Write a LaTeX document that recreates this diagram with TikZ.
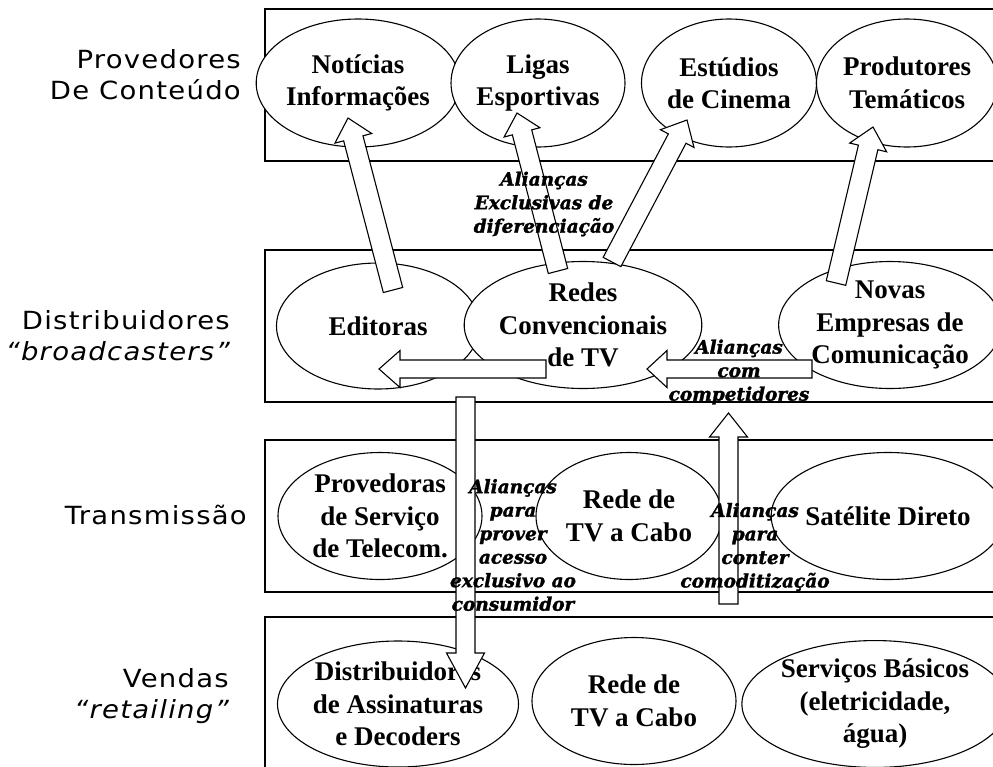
\documentclass[tikz,border=0pt]{standalone}
\usepackage{fontspec}
\setmainfont{Liberation Serif}
\newfontfamily\tierfont[LetterSpace=5,FakeStretch=1.1]{DejaVu Sans}
\newfontfamily\allyfont[FakeBold=1.6]{DejaVu Serif}
\usetikzlibrary{shapes.geometric,calc}

\tikzset{
  band/.style={draw, line width=1.4pt},
  org/.style={ellipse, draw, line width=1.1pt, fill=white, inner sep=0pt,
    align=center, minimum width=204pt, minimum height=127pt,
    font=\bfseries\fontsize{27}{32.5}\selectfont},
  tier/.style={anchor=east, align=right, inner sep=0pt,
    font=\tierfont\fontsize{25}{31}\selectfont},
  ally/.style={align=center, inner sep=0pt,
    font=\allyfont\bfseries\itshape\fontsize{18.5}{23.5}\selectfont},
  blockarr/.style={draw, line width=1.1pt, fill=white, line join=miter},
}

% hollow block arrow: tail, tip, half shaft width, half head width, head length
\newcommand\blockarrow[5]{%
  \coordinate (ba-base) at ($(#2)!#5!(#1)$);
  \draw[blockarr] ($(#1)!#3!90:(#2)$) -- ($(ba-base)!#3!90:(#2)$)
    -- ($(ba-base)!#4!90:(#2)$) -- (#2) -- ($(ba-base)!#4!-90:(#2)$)
    -- ($(ba-base)!#3!-90:(#2)$) -- ($(#1)!#3!-90:(#2)$) -- cycle;
}

\begin{document}
\begin{tikzpicture}[x=1pt, y=-1pt]
  \useasboundingbox (0,0) rectangle (993,766);
  \fill[white] (0,0) rectangle (993,766);
  \clip (0,0) rectangle (993,766);

  % value-chain tiers
  \draw[band] (265,9) rectangle (1000,161);
  \draw[band] (265,250) rectangle (1000,402);
  \draw[band] (265,440) rectangle (1000,592);
  \draw[band] (265,617) rectangle (1000,790);

  \node[tier] (t1) at (241,75) {Provedores\\De Conteúdo};
  \node[tier] (t2) at (230,336) {Distribuidores\\{\itshape “broadcasters”}};
  \node[tier] (t3) at (247,515) {Transmissão};
  \node[tier] (t4) at (229,696) {Vendas\\{\itshape “retailing”}};

  % content providers
  \node[org, minimum width=167pt, minimum height=128pt] (noticias) at (358,83) {Notícias\\Informações};
  \node[org, minimum width=167pt, minimum height=128pt] (ligas) at (538,83) {Ligas\\Esportivas};
  \node[org, minimum width=166pt, minimum height=128pt] (estudios) at (729,83) {Estúdios\\de Cinema};
  \node[org, minimum width=168pt, minimum height=128pt] (produtores) at (907,83) {Produtores\\Temáticos};

  % broadcasters
  \node[org, minimum width=203pt, minimum height=126pt] (editoras) at (378,326) {Editoras};
  \node[org] (redes) at (583,325) {Redes\\Convencionais\\de TV};
  \node[org, minimum width=203pt] (novas) at (890,325) {Novas\\Empresas de\\Comunicação};

  % transmission
  \node[org] (telecom) at (380,516) {Provedoras\\de Serviço\\de Telecom.};
  \node[org, minimum width=186pt] (cabo) at (629,516) {Rede de\\TV a Cabo};
  \node[org] (satelite) at (888,516) {Satélite Direto};

  % retailing
  \node[org, minimum width=241pt, minimum height=126pt] (assin) at (398,704) {Distribuidores\\de Assinaturas\\e Decoders};
  \node[org] (cabovenda) at (634,701) {Rede de\\TV a Cabo};
  \node[org, minimum width=230pt, minimum height=126pt] (basicos) at (875,704) {Serviços Básicos\\(eletricidade,\\água)};

  % arrow ends
  \coordinate (a1s) at (393,290);   \coordinate (a1e) at (348,118);
  \coordinate (a2s) at (558,271);   \coordinate (a2e) at (517,113);
  \coordinate (a3s) at (612,262);   \coordinate (a3e) at (687,120);
  \coordinate (a4s) at (836,283);   \coordinate (a4e) at (873,127);
  \coordinate (a5s) at (546,369);   \coordinate (a5e) at (379,369);
  \coordinate (a6s) at (812,369);   \coordinate (a6e) at (647,369);
  \coordinate (a7s) at (465.5,397); \coordinate (a7e) at (465.5,688);
  \coordinate (a8s) at (728.5,604); \coordinate (a8e) at (728.5,413);

  \blockarrow{a1s}{a1e}{10pt}{19pt}{21pt}
  \blockarrow{a2s}{a2e}{10pt}{18.5pt}{20pt}
  \blockarrow{a3s}{a3e}{10pt}{19pt}{21pt}
  \blockarrow{a4s}{a4e}{10pt}{19pt}{21pt}
  \blockarrow{a5s}{a5e}{9pt}{18.5pt}{21pt}
  \blockarrow{a6s}{a6e}{9pt}{18.5pt}{20pt}
  \blockarrow{a7s}{a7e}{9.5pt}{19pt}{35pt}
  \blockarrow{a8s}{a8e}{9.5pt}{19pt}{24pt}

  % alliance labels
  \node[ally] (l1) at (544,204) {Alianças\\Exclusivas de\\diferenciação};
  \node[ally] (l2) at (739,372) {Alianças\\com\\competidores};
  \node[ally] (l3) at (513,545) {Alianças\\para\\prover\\acesso\\exclusivo ao\\consumidor};
  \node[ally] (l4) at (755,547) {Alianças\\para\\conter\\comoditização};
\end{tikzpicture}
\end{document}
